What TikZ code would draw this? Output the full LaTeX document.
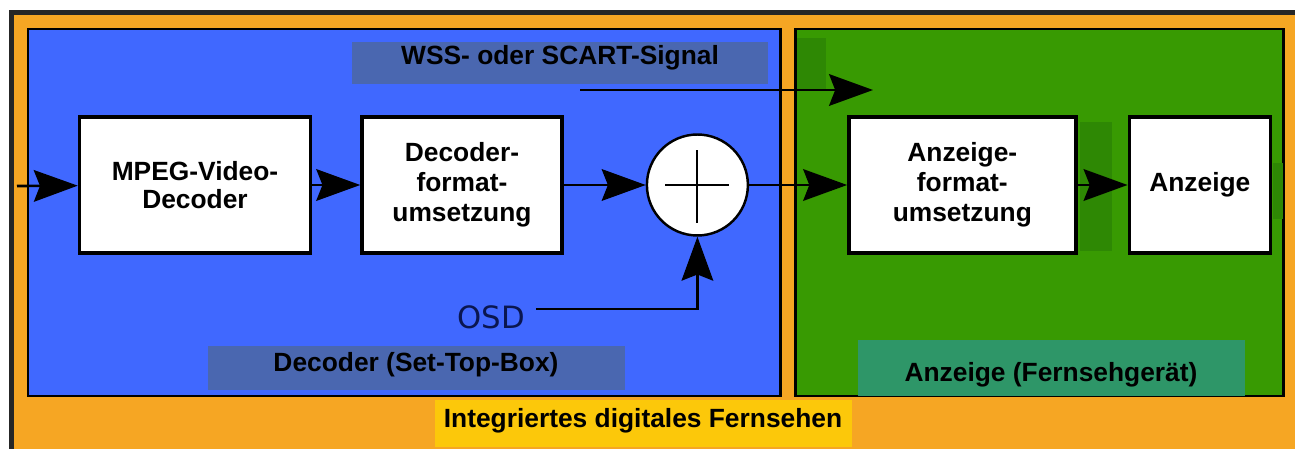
\documentclass[tikz,border=0pt]{standalone}
\usepackage{xcolor}
\usepackage{fontspec}
\setmainfont{Liberation Sans}
\newfontfamily\osdfont{DejaVu Sans}
\usepackage{tikz}
\usetikzlibrary{positioning, arrows.meta}
\definecolor{frameorange}{RGB}{246,166,35}
\definecolor{decblue}{RGB}{64,104,255}
\definecolor{lblblue}{RGB}{74,103,176}
\definecolor{tvgreen}{RGB}{56,154,2}
\definecolor{shadegreen}{RGB}{46,136,4}
\definecolor{lblteal}{RGB}{46,150,104}
\definecolor{lblyellow}{RGB}{252,200,10}
\definecolor{osdnavy}{RGB}{10,22,80}

\begin{document}
\begin{tikzpicture}[
  x=0.02cm, y=-0.02cm,
  box/.style={
    draw,
    line width=2pt,
    fill=white,
    align=center,
    font=\fontsize{15pt}{17pt}\selectfont\bfseries,
    minimum height=2.72cm
  },
  sumnode/.style={draw, circle, line width=1.4pt, fill=white, minimum size=2.02cm, inner sep=0pt},
  lbl/.style={anchor=base, inner sep=0pt, font=\fontsize{15pt}{17pt}\selectfont\bfseries},
  panel/.style={draw, line width=1.7pt},
  arr/.style={line width=1.5pt, -{Stealth[length=25pt,width=18pt,inset=3.5pt]}}
]
\useasboundingbox (0,0) rectangle (1295,449);
\clip (0,0) rectangle (1295,449);

% Frame and panels
\filldraw[fill=frameorange, draw=black!85, line width=2.6pt] (11.5,12.5) rectangle (1330,480);
\filldraw[panel, fill=decblue] (28,29) rectangle (780,396);
\filldraw[panel, fill=tvgreen] (795,29) rectangle (1283,396);
\fill[shadegreen] (797,38) rectangle (826,90);
\fill[shadegreen] (1080,122) rectangle (1112,251);
\fill[shadegreen] (1273,163) rectangle (1283,219);

% Label fields
\fill[lblblue] (352,42) rectangle (768,84);
\fill[lblblue] (208,346) rectangle (625,390);
\fill[lblteal] (858,340) rectangle (1245,396);
\fill[lblyellow] (435,400) rectangle (852,447);

\node[lbl] (wss) at (560,65) {WSS- oder SCART-Signal};
\node[lbl] (stb) at (416,371) {Decoder (Set-Top-Box)};
\node[lbl] (tv) at (1051,381) {Anzeige (Fernsehgerät)};
\node[lbl] (idtv) at (643,427) {Integriertes digitales Fernsehen};

% Boxes
\node[box, minimum width=4.62cm] (mpeg) at (195,185) {MPEG-Video-\\[-1pt]Decoder};
\node[box, minimum width=4.0cm, right=0.96cm of mpeg] (decfmt) {Decoder-\\format-\\umsetzung};
\node[sumnode, right=1.64cm of decfmt] (sum) {};
\node[box, minimum width=4.54cm, right=1.96cm of sum] (dispfmt) {Anzeige-\\format-\\umsetzung};
\node[box, minimum width=2.82cm, right=1.0cm of dispfmt] (disp) {Anzeige};

\draw[line width=1.1pt] ([xshift=-0.64cm]sum.center) -- ([xshift=0.64cm]sum.center);
\draw[line width=1.1pt] ([yshift=0.7cm]sum.center) -- ([yshift=-0.76cm]sum.center);

\node[anchor=base, inner sep=0pt, text=osdnavy, font=\osdfont\fontsize{17.5pt}{19pt}\selectfont] (osd) at (491,328) {OSD};

% Arrows
\coordinate (src) at (17,186);
\coordinate (wssa) at (580,90);
\coordinate (wssb) at (873,90);
\coordinate (osdout) at (536,309);

\draw[arr] (src) -- (mpeg);
\draw[arr] (mpeg) -- (decfmt);
\draw[arr] (decfmt) -- (sum);
\draw[arr] (sum) -- (dispfmt);
\draw[arr] (dispfmt) -- (disp);
\draw[arr] (wssa) -- (wssb);
\draw[arr] (osdout) -| (sum.south);

\end{tikzpicture}
\end{document}
